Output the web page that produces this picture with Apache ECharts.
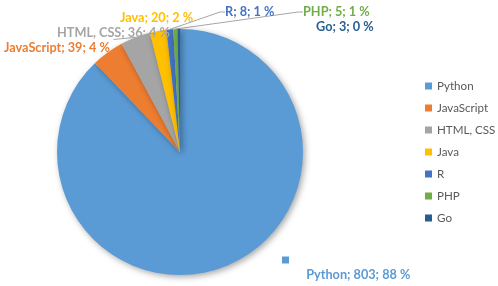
<!DOCTYPE html>
<html><head><meta charset="utf-8">
<script src="https://cdn.jsdelivr.net/npm/echarts@6/dist/echarts.min.js"></script>
<style>html,body{margin:0;padding:0;background:#fff}#c{width:498px;height:286px}</style>
</head><body><div id="c"></div>
<script>
const categories = ['Python','JavaScript','HTML, CSS','Java','R','PHP','Go'];
const values = [803, 39, 36, 20, 8, 5, 3];
const percents = [88, 4, 4, 2, 1, 1, 0];
const colors = ['#5B9BD5','#ED7D31','#A5A5A5','#FFC000','#4472C4','#70AD47','#255E91'];
// label anchor positions (left x, middle y)
const labelPos = [[282,269],[4,48],[57,33],[120,18],[225,12],[303,12],[316,27]];
const showLine = [false,false,true,false,true,true,false];

const chart = echarts.init(document.getElementById('c'));
const FONT = 'Lato';
chart.setOption({
  animation:false,
  legend:{
    orient:'vertical', left:420, top:74,
    itemWidth:7, itemHeight:7, itemGap:8, icon:'rect',
    textStyle:{fontFamily:FONT, fontSize:11.6, lineHeight:14, color:'#595959'},
    data:categories
  },
  series:[{
    type:'pie', center:[180,152], radius:123, startAngle:90, clockwise:true,
    avoidLabelOverlap:false,
    data: categories.map((n,i)=>({name:n, value:values[i],
      itemStyle:{color:colors[i]},
      labelLine:{show:showLine[i]},
      label:{formatter: i===0 ? '{m|}  {t|'+n+'; '+values[i]+'; '+percents[i]+' %}' : n+'; '+values[i]+'; '+percents[i]+' %',
        color: colors[i]}
    })),
    itemStyle:{shadowBlur:6, shadowOffsetX:2, shadowOffsetY:2, shadowColor:'rgba(0,0,0,0.35)'},
    label:{show:true, position:'outside', fontFamily:FONT, fontWeight:'bold', fontSize:12.7,
      rich:{m:{width:7,height:7,backgroundColor:'#5B9BD5', verticalAlign:'top', padding:0},
            t:{fontFamily:FONT, fontWeight:'bold', fontSize:12.7, color:'#5B9BD5', padding:[12,0,0,11]}}},
    labelLine:{lineStyle:{color:'#A6A6A6', width:1}, length:5, length2:5},
    labelLayout:function(p){
      const pos = labelPos[p.dataIndex];
      return {x:pos[0], y:pos[1], align:'left', verticalAlign:'middle'};
    },
    emphasis:{disabled:true}
  }]
});
</script></body></html>
